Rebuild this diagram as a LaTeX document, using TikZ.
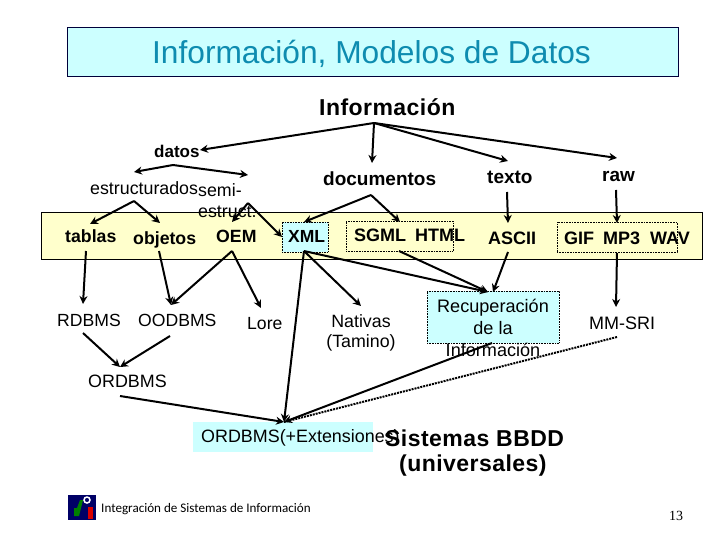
\documentclass[tikz,border=0pt]{standalone}
\usepackage{fontspec}
\setmainfont{Liberation Sans}
\newfontfamily\footfont{Carlito}
\newfontfamily\numfont{Liberation Serif}
\usetikzlibrary{arrows.meta}
\definecolor{paleY}{HTML}{FFFFCC}
\definecolor{paleC}{HTML}{CCFFFF}
\definecolor{titleC}{HTML}{0E8CB0}
\definecolor{navy}{HTML}{00003A}
\tikzset{
 lbl/.style={inner sep=0pt,font=\fontsize{#1}{#1}\selectfont,text=black},
 lbl/.default=17,
 blbl/.style={inner sep=0pt,font=\fontsize{#1}{#1}\selectfont\bfseries,text=black},
 blbl/.default=16,
 arr/.style={draw=black,line width=2pt,-{Stealth[length=8pt,width=8pt]}},
 dotarr/.style={draw=black,line width=2pt,densely dotted},
 dotbox/.style={draw=black,densely dotted,line width=0.6pt},
}
\begin{document}
\begin{tikzpicture}[x=1pt,y=-1pt]
\useasboundingbox[fill=white] (0,0) rectangle (720,540);
% boxes
\node[draw=navy,fill=paleC,line width=.8pt,minimum width=611pt,minimum height=49pt,inner sep=0pt] (titlebox) at (372.5,51.5) {};
\node[draw=black,fill=paleY,line width=.7pt,minimum width=661pt,minimum height=47pt,inner sep=0pt] (band) at (371.5,235.5) {};
\node[dotbox,fill=paleC,minimum width=46pt,minimum height=30pt,inner sep=0pt] (xmlbox) at (305,237) {};
\node[dotbox,minimum width=107pt,minimum height=30pt,inner sep=0pt] (sgmlbox) at (399.5,236) {};
\node[dotbox,minimum width=120pt,minimum height=30pt,inner sep=0pt] (gifbox) at (617,237) {};
\node[dotbox,fill=paleC,minimum width=132pt,minimum height=52pt,inner sep=0pt] (recbox) at (493,317) {};
\node[fill=paleC,minimum width=180pt,minimum height=30pt,inner sep=0pt] (extbox) at (283,437) {};
% text
\node[lbl=31.7,text=titleC] (title) at (371.5,54) {Información, Modelos de Datos};
\node[blbl=23,anchor=west] (info) at (319,107) {\addfontfeature{LetterSpace=2}Información};
\node[blbl=17,anchor=west] (datos) at (154,151) {datos};
\node[lbl=17.8,anchor=west] (estr) at (90,188) {estructurados};
\node[lbl=17.8,anchor=west] (semi) at (198,190) {semi-};
\node[lbl=17.8,anchor=west] (estruct) at (198,212) {estruct.};
\node[blbl=19,anchor=west] (docs) at (323,179) {documentos};
\node[blbl=19,anchor=west] (texto) at (487,177) {texto};
\node[blbl=19,anchor=west] (raw) at (602,176) {raw};
\node[blbl=17.7,anchor=west] (tablas) at (65,236) {tablas};
\node[blbl=17.7,anchor=west] (objetos) at (133,240) {objetos};
\node[blbl=17.7,anchor=west] (oem) at (216,236) {OEM};
\node[blbl=17.5,anchor=west] (xml) at (288,236) {XML};
\node[blbl=18,anchor=west] (sgml) at (354,235) {SGML};
\node[blbl=18,anchor=west] (html) at (415,235) {HTML};
\node[blbl=18,anchor=west] (ascii) at (488,238) {ASCII};
\node[blbl=18,anchor=west] (gif) at (564,238) {GIF};
\node[blbl=18,anchor=west] (mp3) at (603,238) {MP3};
\node[blbl=18,anchor=west] (wav) at (650,238) {WAV};
\node[lbl=17.6,anchor=west] (rdbms) at (57,320) {RDBMS};
\node[lbl=17.6,anchor=west] (oodbms) at (138,320) {OODBMS};
\node[lbl=17.6,anchor=west] (lore) at (247,324) {Lore};
\node[lbl=17.8,anchor=center] (nativas) at (361,321) {Nativas};
\node[lbl=17.8,anchor=center] (tamino) at (361,343) {(Tamino)};
\node[lbl=18.1,anchor=center] (rec1) at (493,308) {Recuperación};
\node[lbl=18.1,anchor=center] (rec2) at (493,328) {de la};
\node[lbl=18.1,anchor=center] (rec3) at (493,350) {Información};
\node[lbl=18,anchor=west] (mmsri) at (589,323) {MM-SRI};
\node[lbl=17.9,anchor=west] (ordbms) at (88,381) {ORDBMS};
\node[lbl=17.9,anchor=west] (ext) at (201,438) {ORDBMS(+Extensiones)};
\node[blbl=23,anchor=west] (sist) at (385,438) {\addfontfeature{LetterSpace=2}Sistemas BBDD};
\node[blbl=23,anchor=west] (univ) at (399,466) {\addfontfeature{LetterSpace=2}(universales)};
\node[inner sep=0pt,anchor=west,font=\footfont\fontsize{13.1}{13.1}\selectfont] (foot) at (101,509) {Integración de Sistemas de Información};
\node[inner sep=0pt,anchor=west,font=\numfont\fontsize{14}{14}\selectfont] (pageno) at (669,516) {13};
% logo
\fill[blue!40!black] (68,495) rectangle (96,520);
\fill[green!50!black] (74,508) -- (77,508) -- (80,500) -- (83,500) -- (79,516) -- (74,516) -- cycle;
\fill[red!85!black] (88,507) rectangle (93,519);
\draw[white,line width=1.5pt] (87,500) circle (3pt);
% connector points
\coordinate (fInfo) at (374,123);
\coordinate (tDatos) at (200,150);
\coordinate (tDocs) at (372,163);
\coordinate (tTexto) at (508,161);
\coordinate (tRaw) at (617,158);
\coordinate (fDatos) at (173,165);
\coordinate (tEstr) at (134,172);
\coordinate (tSemi) at (248,175);
\coordinate (fEstr) at (134,201);
\coordinate (tTablas) at (90,224);
\coordinate (tObj) at (160,223);
\coordinate (fSemi) at (248,203);
\coordinate (tOem) at (232,222);
\coordinate (tXmlL) at (282,237);
\coordinate (fDocs) at (371,195);
\coordinate (tXmlT) at (304,222);
\coordinate (tSgml) at (400,222);
\coordinate (sTexto) at (507,192);
\coordinate (tAscii) at (508,223);
\coordinate (sRaw) at (616,190);
\coordinate (tMp3) at (617,223);
\coordinate (sTab) at (86,251);
\coordinate (tRdb) at (83,304);
\coordinate (sObj) at (159,251);
\coordinate (tOod) at (171,305);
\coordinate (fOem) at (232,251);
\coordinate (tLore) at (261,308);
\coordinate (fXml) at (304,251);
\coordinate (tExt) at (284,422);
\coordinate (tNat) at (361,306);
\coordinate (tRec) at (488,292);
\coordinate (sHtml) at (399,251);
\coordinate (sAscii) at (508,252);
\coordinate (tRecB) at (493,292);
\coordinate (sMp3) at (617,253);
\coordinate (tMm) at (616,307);
\coordinate (sRdb) at (83,333);
\coordinate (tOrd) at (120,367);
\coordinate (sOod) at (170,336);
\coordinate (sOrd) at (120,396);
\coordinate (sRec) at (492,343);
\coordinate (sMm) at (617,337);
% connectors
\foreach \t in {tDatos,tDocs,tTexto,tRaw}{\draw[arr] (fInfo) -- (\t);}
\foreach \t in {tEstr,tSemi}{\draw[arr] (fDatos) -- (\t);}
\foreach \t in {tTablas,tObj}{\draw[arr] (fEstr) -- (\t);}
\foreach \t in {tOem,tXmlL}{\draw[arr] (fSemi) -- (\t);}
\foreach \t in {tXmlT,tSgml}{\draw[arr] (fDocs) -- (\t);}
\draw[arr] (sTexto) -- (tAscii);
\draw[arr] (sRaw) -- (tMp3);
\draw[arr] (sTab) -- (tRdb);
\draw[arr] (sObj) -- (tOod);
\foreach \t in {tOod,tLore}{\draw[arr] (fOem) -- (\t);}
\foreach \t in {tExt,tNat,tRec}{\draw[arr] (fXml) -- (\t);}
\draw[arr] (sHtml) -- (tRec);
\draw[arr] (sAscii) -- (tRecB);
\draw[arr] (sMp3) -- (tMm);
\draw[arr] (sRdb) -- (tOrd);
\draw[arr] (sOod) -- (tOrd);
\draw[arr] (sOrd) -- (tExt);
\draw[arr] (sRec) -- (tExt);
\draw[dotarr] (sMm) -- (tExt);
\end{tikzpicture}
\end{document}
